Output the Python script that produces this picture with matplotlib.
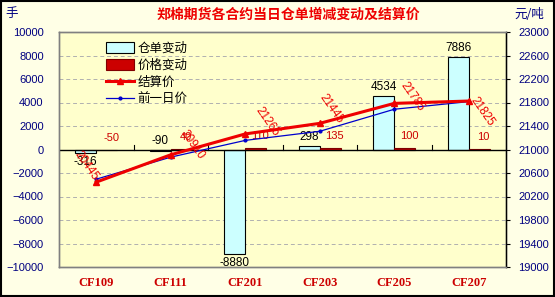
import numpy as np
import matplotlib
matplotlib.use('Agg')
import matplotlib.pyplot as plt
from matplotlib.patches import Patch, Rectangle
from matplotlib.lines import Line2D

plt.rcParams['font.family'] = ['Liberation Sans', 'Noto Sans CJK SC', 'DejaVu Sans']

contracts = ['CF109', 'CF111', 'CF201', 'CF203', 'CF205', 'CF207']
warrant_change = [-316, -90, -8880, 298, 4534, 7886]
price_change = [-50, 40, 110, 135, 100, 10]
settle = [20445, 20910, 21265, 21445, 21785, 21825]
prev_price = [20495, 20870, 21155, 21310, 21685, 21815]

# label offsets for settle prices (pixels), rough placement like the original
settle_off = [(-10, 16), (22, 10), (22, 12), (12, 15), (18, 7), (14, -11)]

fig = plt.figure(figsize=(5.55, 2.97), dpi=100, facecolor='#FFFFE6')
ax = fig.add_axes([59/555, 30/297, 447/555, 235/297])
ax.set_facecolor('#FFFFCC')
ax2 = ax.twinx()

x = np.arange(len(contracts))
w = 0.285

ax.bar(x - w/2, warrant_change, w, color='#CCFFFF', edgecolor='black', lw=0.8, zorder=3)
ax.bar(x + w/2, price_change, w, color='#CC0000', edgecolor='#800000', lw=0.8, zorder=3)

ax.set_xlim(-0.5, 5.5)
ax.set_ylim(-10000, 10000)
ax.set_yticks(np.arange(-10000, 10001, 2000))
ax.yaxis.grid(True, ls=(0, (4, 3)), color='#B0B0B0', lw=0.7)
ax.set_axisbelow(True)
ax.axhline(0, color='black', lw=1, zorder=4)
for b in np.arange(0.5, 5, 1):
    ax.plot([b, b], [0, 350], color='black', lw=0.8, zorder=4)

ax.set_xticks(x)
ax.set_xticklabels(contracts, color='#CC0000', fontsize=9, fontweight='bold',
                   family='Liberation Serif')
ax.tick_params(axis='x', length=0, pad=7)
ax.tick_params(axis='y', length=0, pad=11, labelsize=8, labelcolor='#000080')

for i, v in enumerate(warrant_change):
    if v < 0 and v != -90:
        ax.annotate(str(v), (x[i] - w/2, v), xytext=(0, -2), textcoords='offset points',
                    ha='center', va='top', fontsize=8.5, color='black', zorder=6)
    else:
        ax.annotate(str(v), (x[i] - w/2, max(v, 0)), xytext=(0, 2), textcoords='offset points',
                    ha='center', va='bottom', fontsize=8.5, color='black', zorder=6)
for i, v in enumerate(price_change):
    ax.annotate(str(v), (x[i] + w/2, max(v, 0)), xytext=(3, 5), textcoords='offset points',
                ha='center', va='bottom', fontsize=8, color='#CC0000', zorder=6)

ax2.plot(x, prev_price, color='#0000CC', lw=0.9, marker='.', ms=4, zorder=5)
ax2.plot(x, settle, color='#EE0000', lw=2.2, marker='^', ms=5, zorder=6)
ax2.set_ylim(19000, 23000)
ax2.set_yticks(np.arange(19000, 23001, 400))
ax2.tick_params(axis='y', length=3, pad=6, labelsize=8, labelcolor='#000080')
for i, v in enumerate(settle):
    ax2.annotate(str(v), (x[i], v), xytext=(settle_off[i][0]*0.72, settle_off[i][1]*0.72),
                 textcoords='offset points', ha='center', va='center', rotation=-55,
                 fontsize=8.5, color='#EE0000', zorder=7)

for a in (ax, ax2):
    for s in a.spines.values():
        s.set_color('#808080')
        s.set_linewidth(1)
ax2.spines['right'].set_color('black')

handles = [Patch(facecolor='#CCFFFF', edgecolor='black', lw=0.8),
           Patch(facecolor='#CC0000', edgecolor='#800000', lw=0.8),
           Line2D([], [], color='#EE0000', lw=2.2, marker='^', ms=5),
           Line2D([], [], color='#0000CC', lw=0.9, marker='.', ms=4)]
fig.legend(handles, ['仓单变动', '价格变动', '结算价', '前一日价'], loc='upper left',
           bbox_to_anchor=(95/555, 1 - 31/297), frameon=False, fontsize=9,
           handlelength=2.2, handleheight=0.9, labelspacing=0.35, handletextpad=0.3)

fig.text(0.52, 1 - 15/297, '郑棉期货各合约当日仓单增减变动及结算价', ha='center', va='center',
         fontsize=10, fontweight='bold', color='#EE0000', family='Noto Sans CJK SC')
fig.text(12/555, 1 - 14/297, '手', ha='center', va='center', fontsize=9, color='#000080',
         family='Noto Sans CJK SC')
fig.text(529/555, 1 - 14/297, '元/吨', ha='center', va='center', fontsize=9, color='#000080',
         family='Noto Sans CJK SC')
fig.patches.append(Rectangle((0.002, 0.003), 0.996, 0.994, transform=fig.transFigure,
                             fill=False, edgecolor='black', lw=1.5))

plt.savefig('out.png', dpi=100, facecolor=fig.get_facecolor())
